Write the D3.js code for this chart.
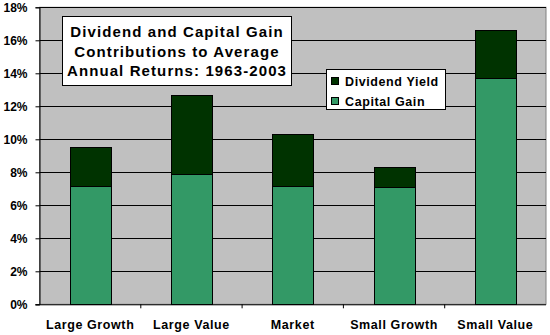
<!DOCTYPE html>
<html><head><meta charset="utf-8">
<script src="https://cdn.jsdelivr.net/npm/d3@7"></script>
<style>body{margin:0;background:#fff}svg{display:block}text{font-family:"Liberation Sans",Arial,sans-serif;font-weight:bold}</style>
</head><body><svg id="c" width="550" height="335"></svg>
<script>
const categories = ["Large Growth","Large Value","Market","Small Growth","Small Value"];
const capitalGain = [7.2, 7.9, 7.2, 7.1, 13.7];
const dividendYield = [2.35, 4.8, 3.15, 1.25, 2.95];
const yTicks = [0,2,4,6,8,10,12,14,16,18];
const seriesNames = ["Dividend Yield","Capital Gain"];
const colors = {"Capital Gain":"#339966","Dividend Yield":"#003300"};
const titleLines = ["Dividend and Capital Gain","Contributions to Average","Annual Returns: 1963-2003"];

const svg = d3.select("#c");
const L=39.5, R=546, T=7.3, B=304.3;
const x = d3.scaleBand().domain(categories).range([L,R]).paddingInner(0.6).paddingOuter(0.3);
const xb = d3.scaleBand().domain(categories).range([L,R]);
const y = d3.scaleLinear().domain([0,18]).range([B,T]);

svg.append("rect").attr("x",L).attr("y",T).attr("width",R-L).attr("height",B-T).attr("fill","#c0c0c0").attr("stroke","#808080").attr("stroke-width",1);

// grid
svg.append("g").selectAll("line").data(yTicks.filter(d=>d>0)).join("line")
  .attr("x1",L).attr("x2",R).attr("y1",d=>Math.round(y(d))+0.5).attr("y2",d=>Math.round(y(d))+0.5)
  .attr("stroke","#000").attr("stroke-width",1);

// stacked data
const rows = categories.map((c,i)=>({cat:c,"Capital Gain":capitalGain[i],"Dividend Yield":dividendYield[i]}));
const stack = d3.stack().keys(["Capital Gain","Dividend Yield"])(rows);
svg.append("g").selectAll("g").data(stack).join("g").attr("fill",d=>colors[d.key])
  .selectAll("rect").data(d=>d).join("rect")
  .attr("x",d=>Math.round(x(d.data.cat))+0.5).attr("width",Math.round(x.bandwidth()))
  .attr("y",d=>Math.round(y(d[1]))+0.5).attr("height",d=>Math.round(y(d[0]))-Math.round(y(d[1])))
  .attr("stroke","#000").attr("stroke-width",1);

// y axis
const ya = d3.axisLeft(y).tickValues(yTicks).tickFormat(d=>d+"%").tickSize(4).tickPadding(8);
const gy = svg.append("g").attr("transform",`translate(${L},0)`).call(ya);
gy.select(".domain").attr("stroke","#000");
gy.selectAll("text").attr("font-size",12).attr("fill","#000").style("font-family","'Liberation Sans',Arial,sans-serif").style("font-weight","bold");

// x axis
const gx = svg.append("g").attr("transform",`translate(0,${B})`);
gx.append("line").attr("x1",L-4).attr("x2",R).attr("y1",0.5).attr("y2",0.5).attr("stroke","#000");
gx.selectAll("line.t").data(categories.slice(1)).join("line").attr("class","t")
  .attr("x1",d=>xb(d)).attr("x2",d=>xb(d)).attr("y1",0).attr("y2",4).attr("stroke","#000");
gx.selectAll("text").data(categories).join("text")
  .attr("x",d=>xb(d)+xb.bandwidth()/2).attr("y",24.5).attr("text-anchor","middle")
  .attr("font-size",12.5).attr("letter-spacing",0.6).text(d=>d);

// title box
const tb = svg.append("g");
tb.append("rect").attr("x",62.5).attr("y",16.5).attr("width",229).attr("height",69).attr("fill","#fff").attr("stroke","#000");
tb.selectAll("text").data(titleLines).join("text").attr("x",177).attr("y",(d,i)=>37+i*19.7)
  .attr("text-anchor","middle").attr("font-size",15).attr("letter-spacing",1.1).text(d=>d);

// legend
const lg = svg.append("g");
lg.append("rect").attr("x",326.5).attr("y",69.5).attr("width",119).attr("height",40).attr("fill","#fff").attr("stroke","#000");
const li = lg.selectAll("g").data(seriesNames).join("g").attr("transform",(d,i)=>`translate(331,${76+i*20})`);
li.append("rect").attr("x",0.5).attr("y",1.5).attr("width",7).attr("height",7).attr("fill",d=>colors[d]).attr("stroke","#000");
li.append("text").attr("x",14).attr("y",9.5).attr("font-size",12.5).attr("letter-spacing",0.6).text(d=>d);
</script></body></html>
